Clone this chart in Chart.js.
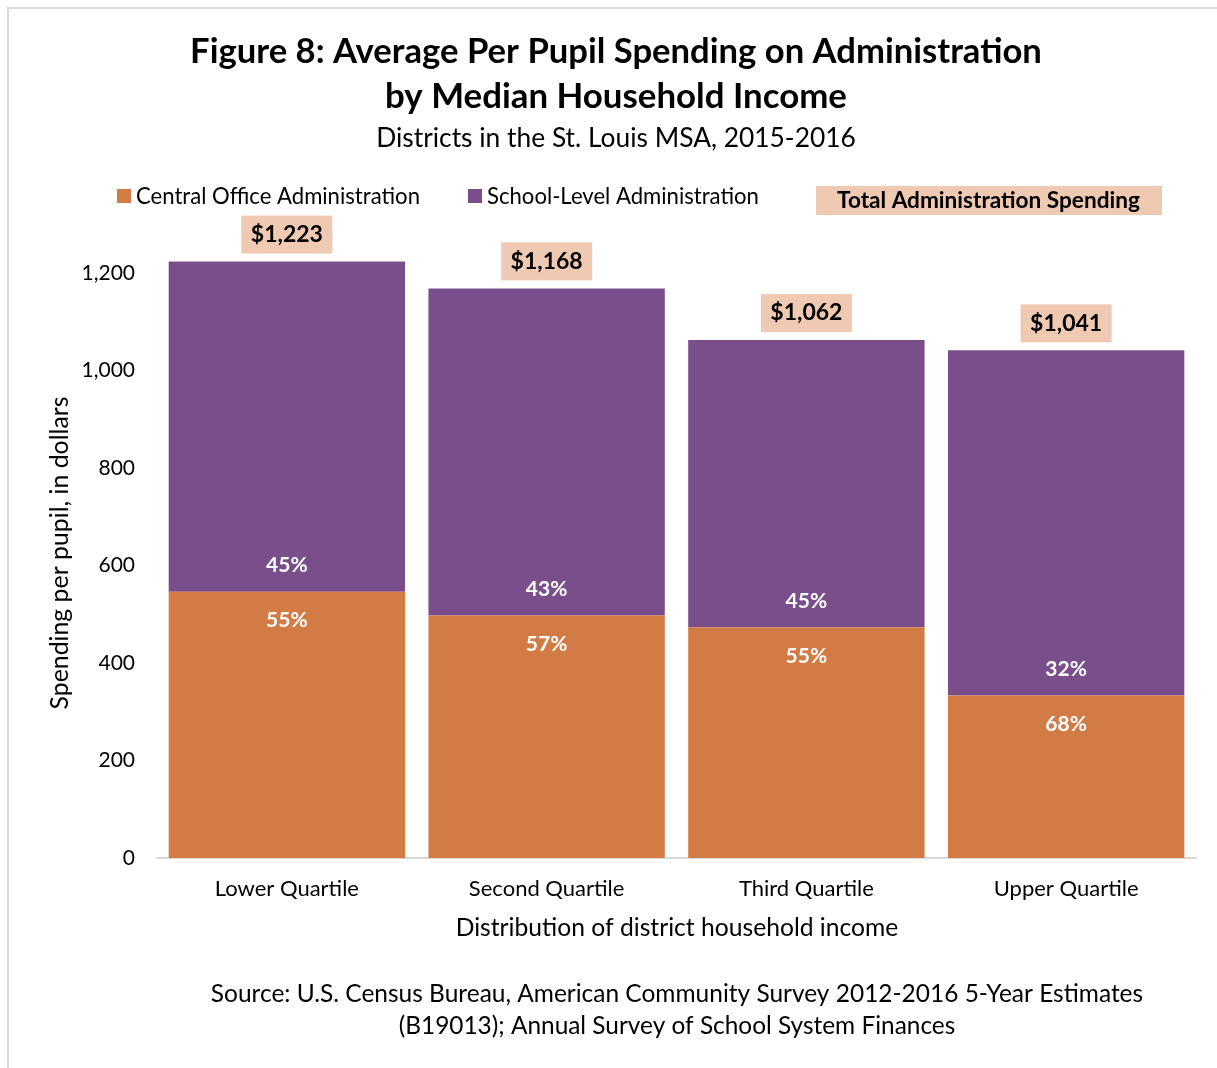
<!DOCTYPE html>
<html><head><meta charset="utf-8">
<script src="https://cdn.jsdelivr.net/npm/chart.js@4/dist/chart.umd.min.js"></script>
<style>html,body{margin:0;padding:0;background:#fff}#wrap{width:1217px;height:1068px;position:relative}</style>
</head><body><div id="wrap"><canvas id="c" width="1217" height="1068"></canvas></div>
<script>
const categories = ['Lower Quartile', 'Second Quartile', 'Third Quartile', 'Upper Quartile'];
const centralOffice = [546, 497, 473, 333];
const schoolLevel = [677, 671, 589, 708];
const totalLabels = ['$1,223', '$1,168', '$1,062', '$1,041'];
const centralPct = ['55%', '57%', '55%', '68%'];
const schoolPct = ['45%', '43%', '45%', '32%'];
const yTicks = [0, 200, 400, 600, 800, 1000, 1200];

const FONT = 'Lato';
const ORANGE = '#D27B45';
const PURPLE = '#7A4E8B';
const PEACH = '#F0C9B2';

function fitText(ctx, text, cx, cy, targetW, weight, color) {
  ctx.font = weight + ' 100px ' + FONT;
  const w = ctx.measureText(text).width;
  const size = 100 * targetW / w;
  ctx.font = weight + ' ' + size + 'px ' + FONT;
  ctx.fillStyle = color || '#000';
  ctx.textAlign = 'center';
  ctx.textBaseline = 'middle';
  ctx.fillText(text, cx, cy);
}

const decor = {
  id: 'decor',
  beforeDraw(chart) {
    const ctx = chart.ctx;
    ctx.save();
    ctx.fillStyle = '#fff';
    ctx.fillRect(0, 0, chart.width, chart.height);
    ctx.strokeStyle = '#D9D9D9';
    ctx.lineWidth = 2;
    ctx.strokeRect(8, 8, chart.width + 20, chart.height + 20);
    ctx.restore();
  },
  afterDraw(chart) {
    const ctx = chart.ctx;
    ctx.save();
    fitText(ctx, 'Figure 8: Average Per Pupil Spending on Administration', 616, 52, 852, 'bold');
    fitText(ctx, 'by Median Household Income', 616, 97, 462, 'bold');
    fitText(ctx, 'Districts in the St. Louis MSA, 2015-2016', 616, 138, 480, 'normal');
    ctx.fillStyle = ORANGE; ctx.fillRect(117, 189, 14, 14);
    ctx.fillStyle = PURPLE; ctx.fillRect(468, 189, 14, 14);
    fitText(ctx, 'Central Office Administration', 278, 197, 284, 'normal');
    fitText(ctx, 'School-Level Administration', 623, 197, 272, 'normal');
    ctx.fillStyle = PEACH; ctx.fillRect(816, 186, 346, 29);
    fitText(ctx, 'Total Administration Spending', 988.5, 201, 303, 'bold');
    ctx.save();
    ctx.translate(60, 553);
    ctx.rotate(-Math.PI / 2);
    fitText(ctx, 'Spending per pupil, in dollars', 0, 0, 313, 'normal');
    ctx.restore();
    fitText(ctx, 'Distribution of district household income', 677, 928, 443, 'normal');
    fitText(ctx, 'Source: U.S. Census Bureau, American Community Survey 2012-2016 5-Year Estimates', 677, 994, 933, 'normal');
    fitText(ctx, '(B19013); Annual Survey of School System Finances', 677, 1026, 557, 'normal');

    const x = chart.scales.x, y = chart.scales.y;
    categories.forEach((c, i) => {
      const cx = x.getPixelForValue(i);
      const boundary = y.getPixelForValue(centralOffice[i]);
      const top = y.getPixelForValue(centralOffice[i] + schoolLevel[i]);
      ctx.font = 'bold 21px ' + FONT;
      ctx.fillStyle = '#fff';
      ctx.textAlign = 'center';
      ctx.textBaseline = 'middle';
      ctx.fillText(schoolPct[i], cx, boundary - 26);
      ctx.fillText(centralPct[i], cx, boundary + 29);
      ctx.fillStyle = PEACH;
      ctx.fillRect(cx - 45.5, top - 46, 91, 38);
      ctx.font = 'bold 23px ' + FONT;
      ctx.fillStyle = '#000';
      ctx.fillText(totalLabels[i], cx, top - 27);
    });
    ctx.restore();
  }
};

new Chart(document.getElementById('c'), {
  type: 'bar',
  data: {
    labels: categories,
    datasets: [
      { label: 'Central Office Administration', data: centralOffice, backgroundColor: ORANGE, stack: 's' },
      { label: 'School-Level Administration', data: schoolLevel, backgroundColor: PURPLE, stack: 's' }
    ]
  },
  options: {
    responsive: false,
    animation: false,
    devicePixelRatio: 1,
    layout: { padding: { top: 224, right: 21, left: 0, bottom: 0 } },
    datasets: { bar: { categoryPercentage: 1, barPercentage: 0.91 } },
    plugins: { legend: { display: false }, tooltip: { enabled: false }, title: { display: false } },
    scales: {
      x: {
        stacked: true,
        grid: { display: false, drawTicks: false },
        border: { display: true, color: '#D9D9D9', width: 2 },
        ticks: { color: '#000', font: { family: FONT, size: 22 }, padding: 18 },
        afterFit(s) { s.height = 210; }
      },
      y: {
        stacked: true,
        min: 0, max: 1300,
        grid: { display: false, drawTicks: false },
        border: { display: false },
        afterBuildTicks(s) { s.ticks = yTicks.map(v => ({ value: v })); },
        ticks: {
          color: '#000', font: { family: FONT, size: 21 }, padding: 22,
          callback: v => v.toLocaleString('en-US')
        },
        afterFit(s) { s.width = 157; }
      }
    }
  },
  plugins: [decor]
});
</script></body></html>
